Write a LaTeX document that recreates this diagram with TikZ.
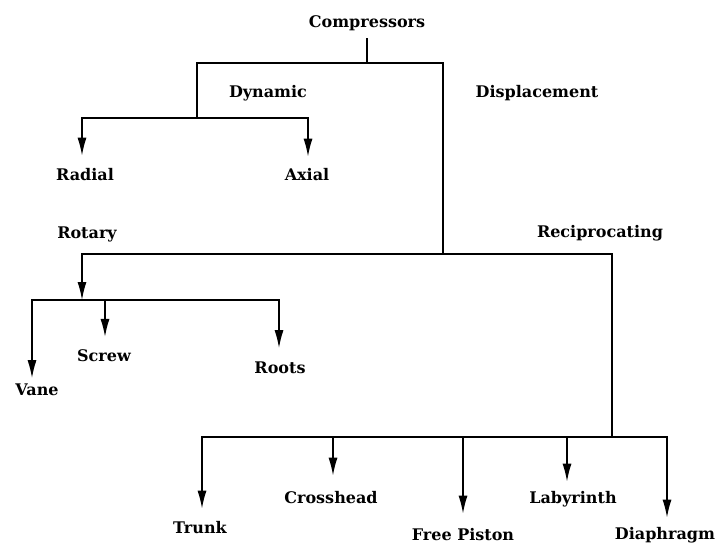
\documentclass[tikz,border=0pt]{standalone}
\usepackage{fontspec}
\setmainfont{DejaVu Serif}
\usetikzlibrary{arrows.meta}

\begin{document}
\begin{tikzpicture}[x=1pt,y=-1pt,
		lbl/.style={inner sep=0pt, anchor=base, font=\fontsize{16}{19}\selectfont\bfseries},
		tree/.style={line width=1.4pt, line cap=rect, line join=miter},
		arr/.style={tree, -{Latex[length=18pt,width=9pt]}}]
		\useasboundingbox (0,0) rectangle (728,544);
		% labels
		\node[lbl] (comp) at (367,27) {Compressors};
		\node[lbl] (dyn) at (268,97) {Dynamic};
		\node[lbl] (disp) at (537,97) {Displacement};
		\node[lbl] (radial) at (85,180) {Radial};
		\node[lbl] (axial) at (307,180) {Axial};
		\node[lbl] (rotary) at (87,238) {Rotary};
		\node[lbl] (recip) at (600,237) {Reciprocating};
		\node[lbl] (vane) at (37,395) {Vane};
		\node[lbl] (screw) at (104,361) {Screw};
		\node[lbl] (roots) at (280,373) {Roots};
		\node[lbl] (trunk) at (200,533) {Trunk};
		\node[lbl] (cross) at (331,503) {Crosshead};
		\node[lbl] (free) at (463,540) {Free Piston};
		\node[lbl] (laby) at (573,503) {Labyrinth};
		\node[lbl] (diaph) at (665,539) {Diaphragm};
		% junctions
		\coordinate (jtop) at (367,63);
		\coordinate (jdyn) at (197,63);
		\coordinate (jdisp) at (443,63);
		\coordinate (jdynb) at (197,118);
		\coordinate (jrad) at (82,118);
		\coordinate (jax) at (308,118);
		\coordinate (jdispb) at (443,254);
		\coordinate (jrot) at (82,254);
		\coordinate (jrec) at (612,254);
		\coordinate (jrotb) at (82,300);
		\coordinate (jvane) at (32,300);
		\coordinate (jscrew) at (105,300);
		\coordinate (jroots) at (279,300);
		\coordinate (jrecb) at (612,437);
		\coordinate (jtrunk) at (202,437);
		\coordinate (jcross) at (333,437);
		\coordinate (jfree) at (463,437);
		\coordinate (jlaby) at (567,437);
		\coordinate (jdiaph) at (667,437);
		% dynamic branch
		\draw[tree, shorten <=8pt] (comp.south -| jtop) -- (jtop);
		\draw[tree] (jdynb) -- (jdyn) -- (jdisp) -- (jdispb);
		\draw[arr, shorten >=12pt] (jax) -- (jrad) -- (jrad |- radial.north);
		\draw[arr, shorten >=11pt] (jax) -- (jax |- axial.north);
		% displacement branch
		\draw[arr] (jrec) -- (jrot) -- (jrotb);
		\draw[arr, shorten >=5pt] (jroots) -- (jvane) -- (jvane |- vane.north);
		\draw[arr, shorten >=12pt] (jscrew) -- (jscrew |- screw.north);
		\draw[arr, shorten >=13pt] (jroots) -- (jroots |- roots.north);
		\draw[tree] (jrec) -- (jrecb);
		\draw[arr, shorten >=12pt] (jdiaph) -- (jtrunk) -- (jtrunk |- trunk.north);
		\draw[arr, shorten >=15pt] (jcross) -- (jcross |- cross.north);
		\draw[arr, shorten >=14pt] (jfree) -- (jfree |- free.north);
		\draw[arr, shorten >=9pt] (jlaby) -- (jlaby |- laby.north);
		\draw[arr, shorten >=9pt] (jdiaph) -- (jdiaph |- diaph.north);
	\end{tikzpicture}
\end{document}
